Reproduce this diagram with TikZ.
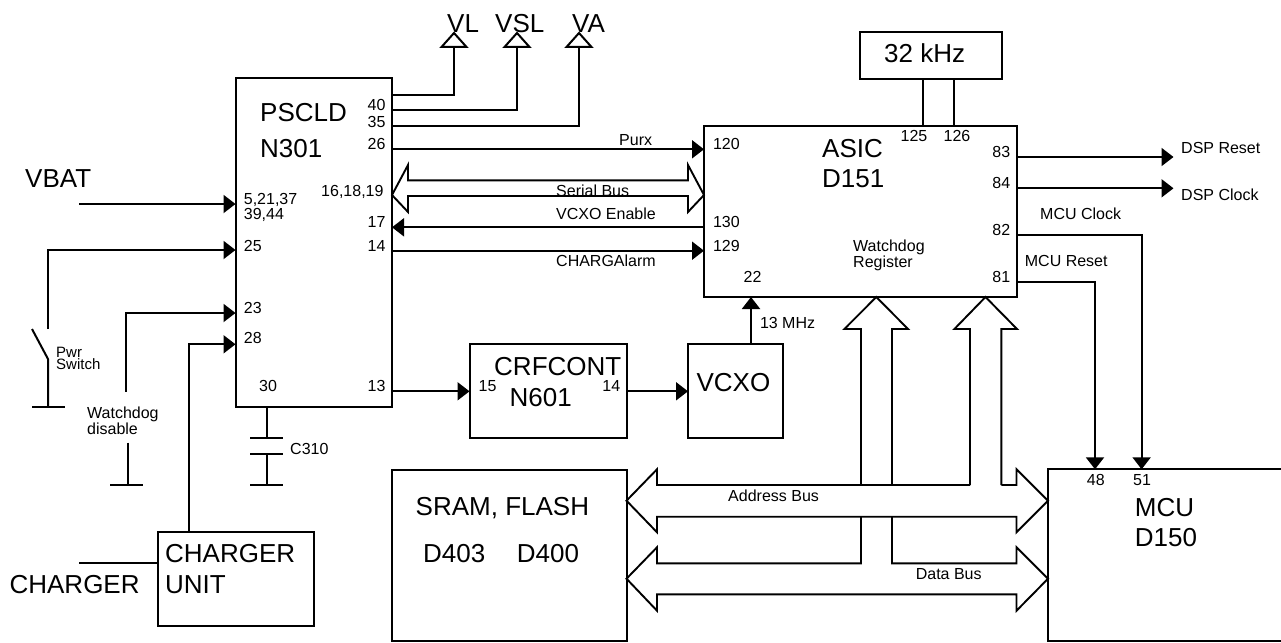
\documentclass[tikz,border=0pt]{standalone}
\usepackage{fontspec}
\setmainfont{Liberation Sans}
\usepackage{tikz}
\usetikzlibrary{arrows.meta,positioning}
\tikzset{
  block/.style={draw, line width=2pt, outer sep=0pt, inner sep=0pt},
  wire/.style={line width=2pt},
  sig/.style={line width=2pt, -{Triangle[length=12pt,width=18pt]}},
  bus/.style={line width=1.9pt, line join=miter},
  pinlabel/.style={inner sep=0pt, font=\fontsize{16}{18}\selectfont, text height=11.5pt, text depth=0pt},
  bigtext/.style={inner sep=0pt, font=\fontsize{26}{30}\selectfont, text height=18.6pt, text depth=0pt}
}
\begin{document}
\begin{tikzpicture}[x=1pt,y=-1pt]
  \useasboundingbox (0,0) rectangle (1281,642);
  % boxes
  \node[block, minimum width=156.5pt, minimum height=329pt] (pscld) at (313.75,242.5) {};
  \node[block, minimum width=312.5pt, minimum height=171pt] (asic) at (860.25,211.5) {};
  \node[block, minimum width=141.5pt, minimum height=47pt] (xtal) at (931,55.5) {};
  \node[block, minimum width=157pt, minimum height=94pt] (crfcont) at (548,391.3) {};
  \node[block, minimum width=94.7pt, minimum height=94pt] (vcxo) at (735.3,391.3) {};
  \node[block, minimum width=156.5pt, minimum height=93.7pt] (chgunit) at (235.75,578.9) {};
  \node[block, minimum width=234.5pt, minimum height=171pt] (sram) at (509.25,555.5) {};
  \node[block, minimum width=240pt, minimum height=171.4pt] (mcu) at (1168,555) {};
  % supply rails
  \coordinate (p40a) at (392,94.7);
  \coordinate (p40b) at (392,110);
  \coordinate (p35) at (392,126);
  \coordinate (vlrail) at (454,47);
  \coordinate (vslrail) at (517,47);
  \coordinate (varail) at (579,47);
  \draw[wire] (p40a) -| (vlrail);
  \draw[wire] (p40b) -| (vslrail);
  \draw[wire] (p35) -| (varail);
  \draw[wire] (vlrail) ++(-12.5,0) -- ++(25,0) -- (454,33) -- cycle;
  \draw[wire] (vslrail) ++(-12.5,0) -- ++(25,0) -- (517,33) -- cycle;
  \draw[wire] (varail) ++(-12.5,0) -- ++(25,0) -- (579,33) -- cycle;
  % signals between the chips
  \coordinate (p26) at (392,149.3);
  \coordinate (a120) at (704,149.3);
  \coordinate (p17) at (392,227.3);
  \coordinate (a130) at (704,227.3);
  \coordinate (p14) at (392,250.7);
  \coordinate (a129) at (704,250.7);
  \draw[sig] (p26) -- (a120);
  \draw[sig] (a130) -- (p17);
  \draw[sig] (p14) -- (a129);
  % serial bus
  \coordinate (stipl) at (392,195);
  \coordinate (stipr) at (704,195);
  \draw[bus] (408,180.3) -- (688,180.3) -- (688,165) -- (stipr) -- (688,212) -- (688,196) -- (408,196) -- (408,212) -- (stipl) -- (408,165) -- cycle;
  % left inputs
  \coordinate (vbatin) at (79,204);
  \coordinate (p5) at (235.5,204);
  \draw[sig] (vbatin) -- (p5);
  \coordinate (swtop) at (48,329);
  \coordinate (p25) at (235.5,250);
  \draw[sig] (swtop) |- (p25);
  \coordinate (wdtop) at (125.7,391.7);
  \coordinate (p23) at (235.5,313);
  \draw[sig] (wdtop) |- (p23);
  \coordinate (p28) at (235.5,344.3);
  \coordinate (chgup) at (188.6,532);
  \draw[sig] (chgup) |- (p28);
  \coordinate (chgin) at (79,563.3);
  \coordinate (chgport) at (157.5,563.3);
  \draw[wire] (chgin) -- (chgport);
  % power switch
  \coordinate (swa) at (32,329);
  \coordinate (swb) at (48,359);
  \coordinate (swgnd) at (48,407);
  \draw[wire] (swa) -- (swb) -- (swgnd);
  \draw[wire] (32,407) -- (64.5,407);
  % watchdog disable
  \coordinate (wdlow) at (127.7,442.7);
  \coordinate (wdgnd) at (127.7,485);
  \draw[wire] (wdlow) -- (wdgnd);
  \draw[wire] (110,485) -- (143,485);
  % C310
  \coordinate (p30) at (267,407);
  \coordinate (capa) at (267,438.3);
  \coordinate (capb) at (267,454);
  \coordinate (capgnd) at (267,485);
  \draw[wire] (p30) -- (capa);
  \draw[wire] (capb) -- (capgnd);
  \draw[wire] (250,438.3) -- (283,438.3);
  \draw[wire] (250,454) -- (283,454);
  \draw[wire] (250,485) -- (283,485);
  % clock chain
  \coordinate (p13) at (392,391.3);
  \coordinate (c15) at (469.5,391.3);
  \coordinate (c14) at (626.5,391.3);
  \coordinate (v14) at (688,391.3);
  \draw[sig] (p13) -- (c15);
  \draw[sig] (c14) -- (v14);
  \coordinate (vtop) at (751,344.3);
  \coordinate (a22) at (751,297);
  \draw[sig] (vtop) -- (a22);
  \coordinate (x125) at (923,79);
  \coordinate (a125) at (923,126);
  \coordinate (x126) at (954,79);
  \coordinate (a126) at (954,126);
  \draw[wire] (x125) -- (a125);
  \draw[wire] (x126) -- (a126);
  % asic outputs
  \coordinate (a83) at (1016.5,157);
  \coordinate (dspreset) at (1173.5,157);
  \coordinate (a84) at (1016.5,188.3);
  \coordinate (dspclock) at (1173.5,188.3);
  \coordinate (a82) at (1016.5,235.3);
  \coordinate (m51) at (1141.6,469.3);
  \coordinate (a81) at (1016.5,282);
  \coordinate (m48) at (1095,469.3);
  \draw[sig] (a83) -- (dspreset);
  \draw[sig] (a84) -- (dspclock);
  \draw[sig] (a82) -| (m51);
  \draw[sig] (a81) -| (m48);
  % address and data bus
  \coordinate (atipl) at (626.5,500.7);
  \coordinate (atipr) at (1048,500.7);
  \coordinate (dtipl) at (626.5,578.7);
  \coordinate (dtipr) at (1048,578.7);
  \coordinate (uptipa) at (876.3,297);
  \coordinate (uptipb) at (985.5,297);
  \draw[bus] (970,485) -- (657,485) -- (657,469.3) -- (atipl) -- (657,532.3) -- (657,516.7) -- (1016.5,516.7) -- (1016.5,532.3) -- (atipr) -- (1016.5,469.3) -- (1016.5,485) -- (1001.4,485);
  \draw[bus] (861,485) -- (861,329) -- (844.4,329) -- (uptipa) -- (908,329) -- (892,329) -- (892,485);
  \draw[bus] (970,485) -- (970,329) -- (954.4,329) -- (uptipb) -- (1017,329) -- (1001.4,329) -- (1001.4,485);
  \draw[bus] (861,516.7) -- (861,563.3) -- (657,563.3) -- (657,547.3) -- (dtipl) -- (657,610.7) -- (657,594.3) -- (1016.5,594.3) -- (1016.5,610.7) -- (dtipr) -- (1016.5,547.3) -- (1016.5,563.3) -- (892,563.3) -- (892,516.7);
  % big labels
  \node[bigtext, anchor=west] (tvl) at (447,23) {VL};
  \node[bigtext, anchor=west] (tvsl) at (495,23) {VSL};
  \node[bigtext, anchor=west] (tva) at (572,23) {VA};
  \node[bigtext, anchor=west] (tpscld) at (260,111.7) {PSCLD};
  \node[bigtext, anchor=west] (tn301) at (260,148) {N301};
  \node[bigtext, anchor=west] (tvbat) at (25,178) {VBAT};
  \node[bigtext, anchor=west] (tasic) at (822,147.7) {ASIC};
  \node[bigtext, anchor=west] (td151) at (822,178.3) {D151};
  \node[bigtext, anchor=west] (txtal) at (884,53.3) {32 kHz};
  \node[bigtext, anchor=west] (tcrf) at (494,365.7) {CRFCONT};
  \node[bigtext, anchor=west] (tn601) at (509.4,397) {N601};
  \node[bigtext, anchor=west] (tvcxo) at (696.4,381.7) {VCXO};
  \node[bigtext, anchor=west] (tchga) at (165,553.3) {CHARGER};
  \node[bigtext, anchor=west] (tunit) at (165,584) {UNIT};
  \node[bigtext, anchor=west] (tchgin) at (9.4,584) {CHARGER};
  \node[bigtext, anchor=west] (tsram) at (415.5,506) {SRAM, FLASH};
  \node[bigtext, anchor=west] (td403) at (423,553.3) {D403};
  \node[bigtext, anchor=west] (td400) at (516.7,553.3) {D400};
  \node[bigtext, anchor=west] (tmcu) at (1134.7,506.7) {MCU};
  \node[bigtext, anchor=west] (td150) at (1134.7,537.3) {D150};
  % pin numbers, pscld
  \node[pinlabel, anchor=east] (n40) at (385.7,105) {40};
  \node[pinlabel, anchor=east] (n35) at (385.7,122) {35};
  \node[pinlabel, anchor=east] (n26) at (385.7,144) {26};
  \node[pinlabel, anchor=east] (n16) at (383.7,191) {16,18,19};
  \node[pinlabel, anchor=east] (n17) at (385.7,221.7) {17};
  \node[pinlabel, anchor=east] (n14) at (385.7,246) {14};
  \node[pinlabel, anchor=east] (n13) at (385.7,385.7) {13};
  \node[pinlabel, anchor=west] (n5) at (243.7,199) {5,21,37};
  \node[pinlabel, anchor=west] (n39) at (243.7,214) {39,44};
  \node[pinlabel, anchor=west] (n25) at (243.7,246) {25};
  \node[pinlabel, anchor=west] (n23) at (243.7,308) {23};
  \node[pinlabel, anchor=west] (n28) at (243.7,338) {28};
  \node[pinlabel, anchor=west] (n30) at (259,385.7) {30};
  % pin numbers, others
  \node[pinlabel, anchor=west] (n15c) at (478.4,385.7) {15};
  \node[pinlabel, anchor=east] (n14c) at (620.4,385.7) {14};
  \node[pinlabel, anchor=west] (n120) at (712.8,144) {120};
  \node[pinlabel, anchor=west] (n130) at (712.8,221.7) {130};
  \node[pinlabel, anchor=west] (n129) at (712.8,246) {129};
  \node[pinlabel, anchor=west] (n22) at (743.4,276.7) {22};
  \node[pinlabel, anchor=west] (n125) at (900.4,136) {125};
  \node[pinlabel, anchor=west] (n126) at (943.4,136) {126};
  \node[pinlabel, anchor=east] (n83) at (1010.4,151.7) {83};
  \node[pinlabel, anchor=east] (n84) at (1010.4,183) {84};
  \node[pinlabel, anchor=east] (n82) at (1010.4,230) {82};
  \node[pinlabel, anchor=east] (n81) at (1010.4,276.7) {81};
  \node[pinlabel] (n48) at (1095.8,479.7) {48};
  \node[pinlabel] (n51) at (1142,479.7) {51};
  % signal names
  \node[pinlabel, anchor=west] (tpurx) at (619,139.3) {Purx};
  \node[pinlabel, anchor=west] (tserial) at (556,190.7) {Serial Bus};
  \node[pinlabel, anchor=west] (tenable) at (556,213.3) {VCXO Enable};
  \node[pinlabel, anchor=west] (talarm) at (556,260.7) {CHARGAlarm};
  \node[inner sep=0pt, align=left, anchor=north west, font=\fontsize{15}{12.6}\selectfont] (tpwr) at (56,346.5) {Pwr\\Switch};
  \node[pinlabel, anchor=west] (twd) at (87,412.7) {Watchdog};
  \node[pinlabel, anchor=west] (tdisable) at (87,428.7) {disable};
  \node[pinlabel, anchor=west] (tc310) at (290,448.7) {C310};
  \node[pinlabel, anchor=west] (t13) at (759.8,323) {13 MHz};
  \node[pinlabel, anchor=west] (taddr) at (728,495.7) {Address Bus};
  \node[pinlabel, anchor=west] (tdata) at (915.6,573.7) {Data Bus};
  \node[inner sep=0pt, align=left, anchor=north west, font=\fontsize{16}{14.7}\selectfont] (twdr) at (853,239.5) {Watchdog\\Register};
  \node[pinlabel, anchor=west] (treset) at (1181,147.7) {DSP Reset};
  \node[pinlabel, anchor=west] (tclock) at (1181,194.3) {DSP Clock};
  \node[pinlabel, anchor=west] (tmcuclk) at (1040,213.3) {MCU Clock};
  \node[pinlabel, anchor=west] (tmcurst) at (1024.7,260.7) {MCU Reset};
\end{tikzpicture}
\end{document}
